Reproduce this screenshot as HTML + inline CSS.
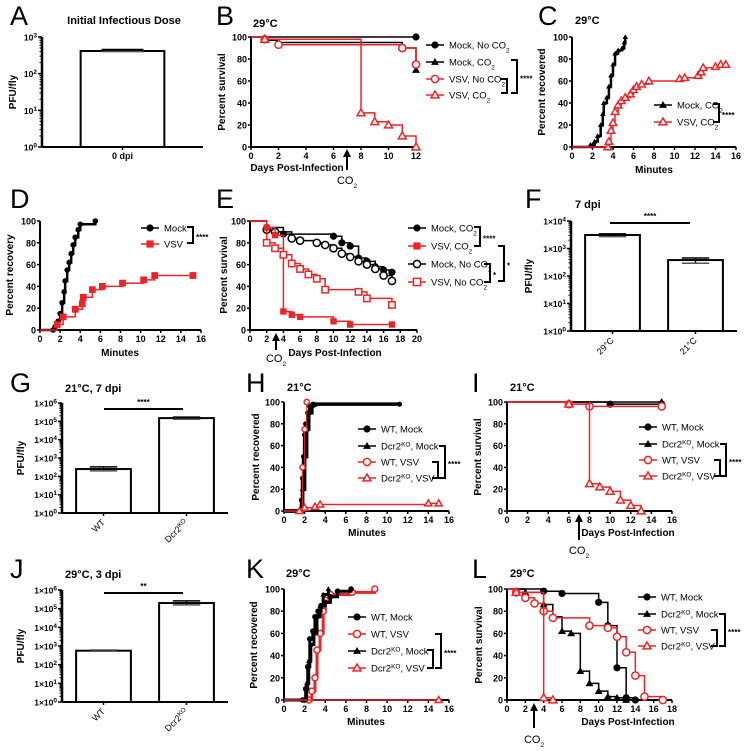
<!DOCTYPE html>
<html><head><meta charset="utf-8"><style>
html,body{margin:0;padding:0;background:#fff;}
svg{display:block;font-family:"Liberation Sans",Arial,sans-serif;}
</style></head><body>
<svg id="fig" width="751" height="751" viewBox="0 0 751 751"></svg>
<script>
// ---------- DATA ----------
const aCats=['0 dpi']; const aVals=[415]; const aErrLo=[400]; const aErrHi=[455];
const fCats=['29°C','21°C']; const fVals=[3100,380]; const fErrLo=[2700,290]; const fErrHi=[3400,450];
const gCats=['WT','Dcr2KO']; const gVals=[250,150000]; const gErrLo=[200,130000]; const gErrHi=[330,170000];
const jCats=['WT','Dcr2KO']; const jVals=[560,200000]; const jErrLo=[530,160000]; const jErrHi=[590,260000];
const survTicks=[0,20,40,60,80,100];
const bMockNo=[[12,100]];
const bMockCO2=[[1,97],[2,95],[11,90],[12,70]];
const bVsvNo=[[1,98],[2,93],[11,90],[12,75]];
const bVsvCO2=[[1,98],[8,31],[9,23],[10,20],[11,10],[12,0]];
const cMock=[[1.8,2],[2.2,5],[2.5,10],[2.8,20],[3,30],[3.1,40],[3.4,45],[3.6,55],[3.8,65],[4,75],[4.2,85],[4.5,88],[4.9,90],[5.1,95],[5.2,100]];
const cVsv=[[3.5,0],[3.6,5],[3.8,15],[4,22],[4.2,32],[4.5,38],[4.8,42],[5.2,45],[5.7,48],[6,52],[6.3,55],[6.8,57],[7.5,60],[10.5,62],[11,63],[12.3,65],[12.6,68],[12.8,72],[14,73],[14.5,75],[15,75]];
const dMock=[[1.3,0],[1.5,3],[1.8,8],[2,15],[2.2,25],[2.4,35],[2.5,45],[2.7,55],[2.9,62],[3.1,70],[3.3,78],[3.5,85],[3.8,92],[4,97],[5.5,100]];
const dVsv=[[1.7,5],[2.3,12],[3.5,19],[4.2,24],[4.3,30],[5.2,37],[6.2,40],[8.2,43],[10.3,46],[11.4,50],[15.2,50]];
const eMockCO2=[[2,94],[4,88],[10,86],[11,80],[12,77],[13,66],[14,63],[15,58],[16,55],[17,53]];
const eVsvCO2=[[2,94],[3,87],[4,17],[5,14],[6,12],[10,8],[12,5],[17,5]];
const eMockNo=[[2,92],[3,90],[5,84],[6,82],[8,80],[9,78],[10,75],[11,70],[12,67],[13,63],[14,60],[15,56],[16,50],[17,45]];
const eVsvNo=[[2,80],[3,75],[4,69],[5,61],[6,56],[7,51],[8,47],[9,37],[13,35],[14,29],[17,23]];
const hWtMock=[[1.5,0],[1.7,10],[1.8,30],[1.9,50],[2,70],[2.1,80],[2.3,90],[2.5,96],[2.8,98],[11.2,98]];
const hKoMock=[[1.6,0],[1.8,20],[2,50],[2.2,75],[2.4,90],[2.7,97],[3,98]];
const hWtVsv=[[1.6,0],[1.8,40],[2,75],[2.2,100]];
const hKoVsv=[[1.5,0],[2,3],[3,4],[3.5,6],[14,7],[15,7]];
const iWtMock=[[10,98],[15,98]];
const iKoMock=[[15,100]];
const iWtVsv=[[6,98],[8,96],[15,96]];
const iKoVsv=[[6,98],[8,25],[9,22],[10,18],[11,10],[12,5],[13,0]];
const kWtMock=[[1.8,0],[2.1,10],[2.3,30],[2.5,55],[2.8,62],[3,75],[3.3,80],[3.6,85],[4,88],[4.5,93],[5.2,98],[6.5,100]];
const kWtVsv=[[2.4,0],[2.7,8],[3,20],[3.2,45],[3.5,60],[3.8,80],[4,90],[4.5,95],[6.6,97],[8.8,100]];
const kKoMock=[[1.9,0],[2.2,15],[2.4,35],[2.6,50],[2.9,60],[3.2,75],[3.5,85],[3.8,95],[4.3,100]];
const kKoVsv=[[15,0]];
const lWtMock=[[4,98],[6,96],[10,88],[11,67],[12,29],[13,2],[14,0]];
const lKoMock=[[2,97],[4,86],[5,75],[6,62],[7,60],[8,26],[9,15],[10,8],[11,3],[12,2],[13,0]];
const lWtVsv=[[1,97],[2,92],[3,87],[4,80],[5,74],[9,67],[11,65],[12,57],[13,43],[14,22],[15,3],[17,0]];
const lKoVsv=[[1,97],[4,2],[5,0]];

// ---------- HELPERS ----------
const NS='http://www.w3.org/2000/svg';
const svg=document.getElementById('fig');
const RED='#e8262a';
function el(tag,parent){const e=document.createElementNS(NS,tag);parent.appendChild(e);return e;}
function att(e,o){for(const k in o)e.setAttribute(k,o[k]);return e;}
function txt(parent,x,y,html,size,weight,anchor){const t=el('text',parent);att(t,{x:x,y:y,'font-size':size,'font-weight':weight||'normal','text-anchor':anchor||'start',fill:'#000'});t.innerHTML=html;return t;}
function line(parent,x1,y1,x2,y2,w,c){const l=el('line',parent);att(l,{x1:x1,y1:y1,x2:x2,y2:y2,stroke:c||'#000','stroke-width':w||1});return l;}
const SUB2='CO<tspan baseline-shift="sub" font-size="6.5">2</tspan>';
const KO='Dcr2<tspan baseline-shift="super" font-size="6.5">KO</tspan>';

function marker(parent,type,x,y,c,s){
  s=s||3.6;let m;
  if(type==='circle'||type==='ocircle'){m=el('circle',parent);att(m,{cx:x,cy:y,r:s});}
  else if(type==='tri'||type==='otri'){m=el('polygon',parent);att(m,{points:(x)+','+(y-s*1.1)+' '+(x-s*1.1)+','+(y+s*0.8)+' '+(x+s*1.1)+','+(y+s*0.8)});}
  else {m=el('rect',parent);att(m,{x:x-s,y:y-s,width:2*s,height:2*s});}
  if(type[0]==='o'){att(m,{fill:'#fff',stroke:c,'stroke-width':1.5});}
  else att(m,{fill:c});
  return m;
}
function letter(x,y,ch,name){const t=txt(svg,x,y,ch,27,'normal');}

function linAxes(g,p){
  const sx=v=>p.x0+(v-p.xmin)/(p.xmax-p.xmin)*(p.x1-p.x0);
  const sy=v=>p.yb-(v-p.ymin)/(p.ymax-p.ymin)*(p.yb-p.yt);
  const xa=line(g,p.x0,p.yb,p.x1,p.yb,2);
  
  const ya=line(g,p.x0,p.yb,p.x0,p.yt,2);
  
  p.xticks.forEach(v=>{line(g,sx(v),p.yb,sx(v),p.yb+3,1.5);const t=txt(g,sx(v),p.yb+12,String(v),9,'bold','middle');});
  p.yticks.forEach(v=>{line(g,p.x0-3,sy(v),p.x0,sy(v),1.5);const t=txt(g,p.x0-4,sy(v)+3.5,String(v),9,'bold','end');});
  return {sx,sy};
}
function series(g,ax,pts,start,c,mtype,name,ms,lw){
  const s=el('g',g);
  let d='M'+ax.sx(0)+','+ax.sy(start);let cy=start;
  pts.forEach(p=>{d+=' L'+ax.sx(p[0])+','+ax.sy(cy)+' L'+ax.sx(p[0])+','+ax.sy(p[1]);cy=p[1];});
  const pa=el('path',s);att(pa,{d:d,fill:'none',stroke:c,'stroke-width':lw||1.5});
  pts.forEach(p=>{const m=marker(s,mtype,ax.sx(p[0]),ax.sy(p[1]),c,ms);});
}
function legend(g,x,y,html,c,mtype,name){
  const s=el('g',g);
  line(s,x-9,y,x+9,y,1.5,c);marker(s,mtype,x,y,c,3.6);
  txt(s,x+14,y+3.5,html,9.5,'normal');
}
function bracket(g,x,y1,y2,label,name){
  const s=el('g',g);
  const p=el('path',s);att(p,{d:'M'+(x-6)+','+y1+' H'+x+' V'+y2+' H'+(x-6),fill:'none',stroke:'#000','stroke-width':2});
  txt(s,x+3,(y1+y2)/2+5,label,8,'bold');
}
function ytitle(g,x,y,html){const t=txt(g,0,0,html,10,'bold','middle');t.setAttribute('transform','translate('+x+','+y+') rotate(-90)');}
function xtitle(g,x,y,html){const t=txt(g,x,y,html,10,'bold','middle');}
function title(g,x,y,html,anchor){const t=txt(g,x,y,html,11,'bold',anchor||'start');}
function arrow(g,x,y1,y2,ly){
  const s=el('g',g);
  line(s,x,y1+6,x,y2,2);const p=el('polygon',s);att(p,{points:x+','+y1+' '+(x-4)+','+(y1+8)+' '+(x+4)+','+(y1+8),fill:'#000'});
  txt(s,x,ly,SUB2,11,'normal','middle');
}
function logBars(g,p,cats,vals,lo,hi,labelFn,rot){
  const sy=v=>p.yb-(Math.log10(v)-p.dmin)/(p.dmax-p.dmin)*(p.yb-p.yt);
  const band=(p.x1-p.x0)/cats.length;
  const xa=line(g,p.x0,p.yb,p.x1,p.yb,2);
  const ya=line(g,p.x0,p.yb,p.x0,p.yt,2.5);
  for(let d=p.dmin;d<=p.dmax;d++){
    line(g,p.x0-4,sy(Math.pow(10,d)),p.x0,sy(Math.pow(10,d)),1.5);
    const t=txt(g,p.x0-5,sy(Math.pow(10,d))+3.5,labelFn(d),8.5,'bold','end');
    if(d<p.dmax)for(let k=2;k<10;k++)line(g,p.x0-2.5,sy(k*Math.pow(10,d)),p.x0,sy(k*Math.pow(10,d)),1);
  }
  cats.forEach((c,i)=>{
    const cx=p.x0+band*(i+0.5),w=band*p.bw;
    const r=el('rect',g);att(r,{x:cx-w/2,y:sy(vals[i]),width:w,height:p.yb-sy(vals[i]),fill:'#fff',stroke:'#000','stroke-width':2});
    
    const e=el('g',g);
    line(e,cx,sy(lo[i]),cx,sy(hi[i]),1.5);line(e,cx-w*0.25,sy(hi[i]),cx+w*0.25,sy(hi[i]),1.5);line(e,cx-w*0.25,sy(lo[i]),cx+w*0.25,sy(lo[i]),1.5,'#555');
    line(g,cx,p.yb,cx,p.yb+3,1.5);
    const lbl=c==='Dcr2KO'?KO:c;
    let t;
    if(rot){t=txt(g,0,0,lbl,9,'normal','end');t.setAttribute('transform','translate('+(cx+2)+','+(p.yb+10)+') rotate(-45)');}
    else t=txt(g,cx,p.yb+12,lbl,9,'bold','middle');
    
  });
  return {sx:i=>p.x0+band*(i+0.5),sy};
}
function sig(g,x1,x2,y,label){const s=el('g',g);line(s,x1,y,x2,y,2);txt(s,(x1+x2)/2,y-4,label,8,'bold','middle');}
function panel(name){const g=el('g',svg);return g;}
const pow=d=>'10<tspan baseline-shift="super" font-size="6.5">'+d+'</tspan>';
const sci=d=>'1×10<tspan baseline-shift="super" font-size="6.5">'+d+'</tspan>';

// ---------- PANEL A ----------
letter(10,25,'A','panel-label-a');
let g=panel('panel-a');
title(g,124,24,'Initial Infectious Dose','middle');
logBars(g,{x0:42,x1:203,yb:147,yt:37,dmin:0,dmax:3,bw:0.52},aCats,aVals,aErrLo,aErrHi,pow,false);
ytitle(g,16,92,'PFU/fly');

// ---------- PANEL B ----------
letter(216,25,'B','panel-label-b');
g=panel('panel-b');
title(g,253,27,'29°C');
let ax=linAxes(g,{x0:251,x1:416,xmin:0,xmax:12,xticks:[0,2,4,6,8,10,12],yb:147,yt:37,ymin:0,ymax:100,yticks:survTicks});
series(g,ax,bMockNo,100,'#000','circle','series-mock-no-co2');
series(g,ax,bMockCO2,100,'#000','tri','series-mock-co2');
series(g,ax,bVsvNo,100,RED,'ocircle','series-vsv-no-co2');
series(g,ax,bVsvCO2,100,RED,'otri','series-vsv-co2');
ytitle(g,225,92,'Percent survival');
xtitle(g,297,171,'Days Post-Infection');
arrow(g,347,149,170,184);
legend(g,435,45,'Mock, No '+SUB2,'#000','circle','legend-mock-no-co2');
legend(g,435,62,'Mock, '+SUB2,'#000','tri','legend-mock-co2');
legend(g,435,79,'VSV, No '+SUB2,RED,'ocircle','legend-vsv-no-co2');
legend(g,435,95,'VSV, '+SUB2,RED,'otri','legend-vsv-co2');
bracket(g,507,79,93,'','bracket-inner');
bracket(g,517,60,93,'****','bracket-outer');

// ---------- PANEL C ----------
letter(538,25,'C','panel-label-c');
g=panel('panel-c');
title(g,575,24,'29°C');
ax=linAxes(g,{x0:572,x1:736,xmin:0,xmax:16,xticks:[0,2,4,6,8,10,12,14,16],yb:147,yt:37,ymin:0,ymax:100,yticks:survTicks});
series(g,ax,cMock,0,'#000','tri','series-mock-co2',2.5,2.5);
series(g,ax,cVsv,0,RED,'otri','series-vsv-co2',3.4);
ytitle(g,545,92,'Percent recovered');
xtitle(g,654,173,'Minutes');
legend(g,663,105,'Mock, '+SUB2,'#000','tri','legend-mock-co2');
legend(g,663,122,'VSV, '+SUB2,RED,'otri','legend-vsv-co2');
bracket(g,719,104,122,'****','bracket');

// ---------- PANEL D ----------
letter(10,208,'D','panel-label-d');
g=panel('panel-d');
ax=linAxes(g,{x0:40,x1:201,xmin:0,xmax:16,xticks:[0,2,4,6,8,10,12,14,16],yb:330,yt:221,ymin:0,ymax:100,yticks:survTicks});
series(g,ax,dMock,0,'#000','circle','series-mock',2.8,2.5);
series(g,ax,dVsv,0,RED,'sq','series-vsv',3.4);
ytitle(g,13,275,'Percent recovery');
xtitle(g,120,356,'Minutes');
legend(g,150,228,'Mock','#000','circle','legend-mock');
legend(g,150,244,'VSV',RED,'sq','legend-vsv');
bracket(g,193,227,243,'****','bracket');

// ---------- PANEL E ----------
letter(216,208,'E','panel-label-e');
g=panel('panel-e');
ax=linAxes(g,{x0:250,x1:417,xmin:0,xmax:20,xticks:[0,2,4,6,8,10,12,14,16,18,20],yb:330,yt:221,ymin:0,ymax:100,yticks:survTicks});
series(g,ax,eMockCO2,100,'#000','circle','series-mock-co2');
series(g,ax,eMockNo,100,'#000','ocircle','series-mock-no-co2');
series(g,ax,eVsvCO2,100,RED,'sq','series-vsv-co2',3.2);
series(g,ax,eVsvNo,100,RED,'osq','series-vsv-no-co2',3.2);
ytitle(g,227,275,'Percent survival');
xtitle(g,335,356,'Days Post-Infection');
arrow(g,276,333,350,362);
legend(g,417,228,'Mock, '+SUB2,'#000','circle','legend-mock-co2');
legend(g,417,246,'VSV, '+SUB2,RED,'sq','legend-vsv-co2');
legend(g,417,264,'Mock, No '+SUB2,'#000','ocircle','legend-mock-no-co2');
legend(g,417,282,'VSV, No '+SUB2,RED,'osq','legend-vsv-no-co2');
bracket(g,480,227,246,'****','bracket-co2');
bracket(g,490,264,282,'*','bracket-no-co2');
bracket(g,504,246,281,'*','bracket-vsv');

// ---------- PANEL F ----------
letter(525,208,'F','panel-label-f');
g=panel('panel-f');
title(g,575,208,'7 dpi');
logBars(g,{x0:571,x1:737,yb:331,yt:221,dmin:0,dmax:4,bw:0.66},fCats,fVals,fErrLo,fErrHi,sci,true);
sig(g,610,690,223,'****');
ytitle(g,532,276,'PFU/fly');

// ---------- PANEL G ----------
letter(10,392,'G','panel-label-g');
g=panel('panel-g');
title(g,65,392,'21°C, 7 dpi');
logBars(g,{x0:62,x1:228,yb:513,yt:403,dmin:0,dmax:6,bw:0.66},gCats,gVals,gErrLo,gErrHi,sci,true);
sig(g,104,183,409,'****');
ytitle(g,24,458,'PFU/fly');

// ---------- PANEL H ----------
letter(246,392,'H','panel-label-h');
g=panel('panel-h');
title(g,287,391,'21°C');
ax=linAxes(g,{x0:284,x1:449,xmin:0,xmax:16,xticks:[0,2,4,6,8,10,12,14,16],yb:511,yt:402,ymin:0,ymax:100,yticks:survTicks});
series(g,ax,hKoMock,0,'#000','tri','series-dcr2ko-mock',2.6,3.5);
series(g,ax,hWtMock,0,'#000','circle','series-wt-mock',2.6,3.5);
series(g,ax,hWtVsv,0,RED,'ocircle','series-wt-vsv',2.6,1);
series(g,ax,hKoVsv,0,RED,'otri','series-dcr2ko-vsv',3.2);
ytitle(g,259,457,'Percent recovered');
xtitle(g,367,536,'Minutes');
legend(g,367,429,'WT, Mock','#000','circle','legend-wt-mock');
legend(g,367,446,KO+', Mock','#000','tri','legend-dcr2ko-mock');
legend(g,367,462,'WT, VSV',RED,'ocircle','legend-wt-vsv');
legend(g,367,478,KO+', VSV',RED,'otri','legend-dcr2ko-vsv');
bracket(g,438,462,478,'','bracket-inner');
bracket(g,445,446,478,'****','bracket-outer');

// ---------- PANEL I ----------
letter(472,392,'I','panel-label-i');
g=panel('panel-i');
title(g,510,391,'21°C');
ax=linAxes(g,{x0:507,x1:672,xmin:0,xmax:16,xticks:[0,2,4,6,8,10,12,14,16],yb:511,yt:402,ymin:0,ymax:100,yticks:survTicks});
series(g,ax,iKoMock,100,'#000','tri','series-dcr2ko-mock');
series(g,ax,iWtMock,100,'#000','circle','series-wt-mock');
series(g,ax,iWtVsv,100,RED,'ocircle','series-wt-vsv');
series(g,ax,iKoVsv,100,RED,'otri','series-dcr2ko-vsv');
ytitle(g,481,457,'Percent survival');
xtitle(g,628,536,'Days Post-Infection');
arrow(g,579,514,540,554);
legend(g,648,427,'WT, Mock','#000','circle','legend-wt-mock');
legend(g,648,444,KO+', Mock','#000','tri','legend-dcr2ko-mock');
legend(g,648,460,'WT, VSV',RED,'ocircle','legend-wt-vsv');
legend(g,648,476,KO+', VSV',RED,'otri','legend-dcr2ko-vsv');
bracket(g,720,460,476,'','bracket-inner');
bracket(g,726,444,476,'****','bracket-outer');

// ---------- PANEL J ----------
letter(10,578,'J','panel-label-j');
g=panel('panel-j');
title(g,65,578,'29°C, 3 dpi');
logBars(g,{x0:62,x1:228,yb:702,yt:590,dmin:0,dmax:6,bw:0.66},jCats,jVals,jErrLo,jErrHi,sci,true);
sig(g,104,183,593,'**');
ytitle(g,24,646,'PFU/fly');

// ---------- PANEL K ----------
letter(246,578,'K','panel-label-k');
g=panel('panel-k');
title(g,286,577,'29°C');
ax=linAxes(g,{x0:284,x1:449,xmin:0,xmax:16,xticks:[0,2,4,6,8,10,12,14,16],yb:700,yt:589,ymin:0,ymax:100,yticks:survTicks});
series(g,ax,kWtVsv,0,RED,'ocircle','series-wt-vsv',3,3);
series(g,ax,kKoMock,0,'#000','tri','series-dcr2ko-mock',2.5,3);
series(g,ax,kWtMock,0,'#000','circle','series-wt-mock',2.8,3);
series(g,ax,kKoVsv,0,RED,'otri','series-dcr2ko-vsv',3.2);
ytitle(g,257,645,'Percent recovered');
xtitle(g,366,725,'Minutes');
legend(g,357,617,'WT, Mock','#000','circle','legend-wt-mock');
legend(g,357,634,'WT, VSV',RED,'ocircle','legend-wt-vsv');
legend(g,357,651,KO+', Mock','#000','tri','legend-dcr2ko-mock');
legend(g,357,668,KO+', VSV',RED,'otri','legend-dcr2ko-vsv');
bracket(g,433,650,668,'','bracket-inner');
bracket(g,441,634,668,'****','bracket-outer');

// ---------- PANEL L ----------
letter(472,578,'L','panel-label-l');
g=panel('panel-l');
title(g,510,577,'29°C');
ax=linAxes(g,{x0:507,x1:672,xmin:0,xmax:18,xticks:[0,2,4,6,8,10,12,14,16,18],yb:700,yt:589,ymin:0,ymax:100,yticks:survTicks});
series(g,ax,lWtMock,100,'#000','circle','series-wt-mock');
series(g,ax,lKoMock,100,'#000','tri','series-dcr2ko-mock');
series(g,ax,lWtVsv,100,RED,'ocircle','series-wt-vsv');
series(g,ax,lKoVsv,100,RED,'otri','series-dcr2ko-vsv');
ytitle(g,482,645,'Percent survival');
xtitle(g,628,725,'Days Post-Infection');
arrow(g,534,703,728,743);
legend(g,647,597,'WT, Mock','#000','circle','legend-wt-mock');
legend(g,647,614,KO+', Mock','#000','tri','legend-dcr2ko-mock');
legend(g,647,630,'WT, VSV',RED,'ocircle','legend-wt-vsv');
legend(g,647,646,KO+', VSV',RED,'otri','legend-dcr2ko-vsv');
bracket(g,717,630,646,'','bracket-inner');
bracket(g,725,614,646,'****','bracket-outer');
</script>
</body></html>
